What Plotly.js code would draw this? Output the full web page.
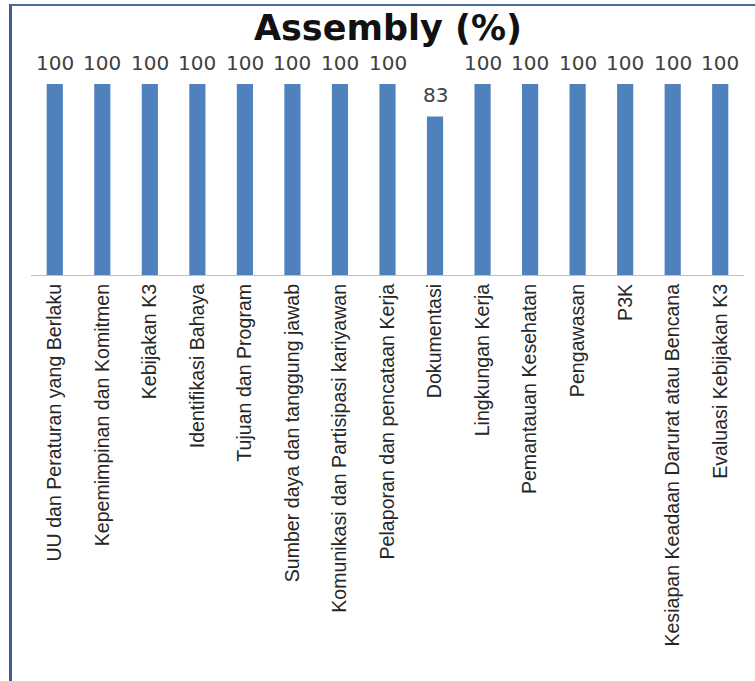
<!DOCTYPE html>
<html>
<head>
<meta charset="utf-8">
<script src="https://cdn.plot.ly/plotly-3.0.1.min.js"></script>
<style>
  html, body { margin: 0; padding: 0; background: #ffffff; }
  #wrap { position: relative; width: 755px; height: 681px; overflow: hidden; }
  #chart { position: absolute; left: 0; top: 0; width: 755px; height: 681px; }
  #frame { position: absolute; left: 9px; top: 4px; width: 760px; height: 700px;
           border-top: 2px solid #4a6c9b; border-left: 3px solid #3d5f8e;
           pointer-events: none; box-sizing: border-box; }
</style>
</head>
<body>
<div id="wrap">
  <div id="chart"></div>
  <div id="frame"></div>
</div>
<script>
const titleText = "Assembly (%)";
const categories = [
  "UU dan Peraturan yang Berlaku",
  "Kepemimpinan dan Komitmen",
  "Kebijakan K3",
  "Identifikasi Bahaya",
  "Tujuan dan Program",
  "Sumber daya dan tanggung jawab",
  "Komunikasi dan Partisipasi kariyawan",
  "Pelaporan dan pencataan Kerja",
  "Dokumentasi",
  "Lingkungan Kerja",
  "Pemantauan Kesehatan",
  "Pengawasan",
  "P3K",
  "Kesiapan Keadaan Darurat atau Bencana",
  "Evaluasi Kebijakan K3"
];
const values = [100, 100, 100, 100, 100, 100, 100, 100, 83, 100, 100, 100, 100, 100, 100];

const trace = {
  type: "bar",
  x: categories,
  y: values,
  marker: { color: "#4f81bd" },
  hoverinfo: "x+y"
};

const annotations = categories.map((c, i) => ({
  x: c,
  y: values[i],
  xref: "x",
  yref: "y",
  text: String(values[i]),
  showarrow: false,
  yanchor: "middle",
  yshift: 21,
  font: { family: "DejaVu Sans, sans-serif", size: 20, color: "#404040" }
}));

const layout = {
  width: 755,
  height: 681,
  margin: { l: 31, r: 11, t: 84, b: 406, pad: 0 },
  paper_bgcolor: "#ffffff",
  plot_bgcolor: "#ffffff",
  showlegend: false,
  bargap: 0.66,
  title: {
    text: "<b>" + titleText + "</b>",
    x: 388 / 755,
    xref: "container",
    xanchor: "center",
    y: 1 - 28 / 681,
    yref: "container",
    yanchor: "middle",
    font: { family: "DejaVu Sans, sans-serif", size: 35, color: "#111111" }
  },
  xaxis: {
    type: "category",
    tickangle: -90,
    showline: true,
    linecolor: "#bfbfbf",
    linewidth: 1,
    ticks: "",
    showgrid: false,
    zeroline: false,
    tickfont: { family: "Liberation Sans, Arial, sans-serif", size: 19.6, color: "#262626" },
    automargin: false
  },
  yaxis: {
    range: [0, 100],
    visible: false,
    showgrid: false,
    zeroline: false,
    fixedrange: true
  },
  annotations: annotations
};

Plotly.newPlot("chart", [trace], layout, { displayModeBar: false, staticPlot: true });
</script>
</body>
</html>
